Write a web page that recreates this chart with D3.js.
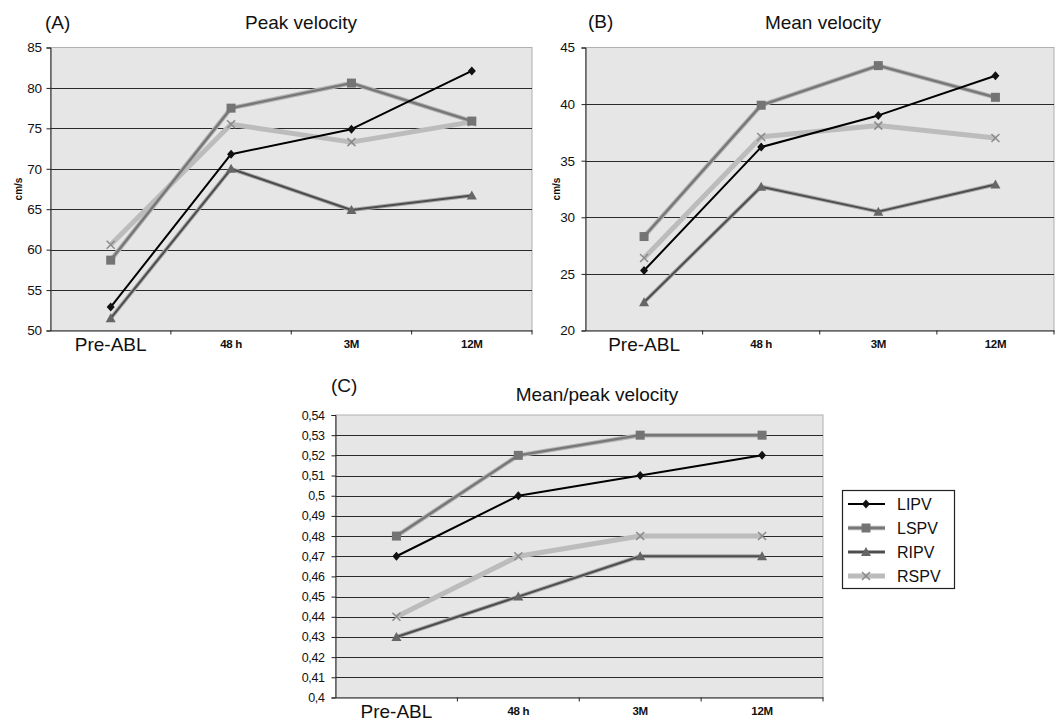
<!DOCTYPE html>
<html>
<head>
<meta charset="utf-8">
<script src="https://d3js.org/d3.v7.min.js"></script>
<style>
  body { margin: 0; background: #fff; }
  svg text { font-family: "Liberation Sans", Arial, sans-serif; fill: #111; }
</style>
</head>
<body>
<div id="my_dataviz"></div>
<script>

// categories (time points) and series
var periods = ["Pre-ABL", "48 h", "3M", "12M"];
var seriesNames = ["LIPV", "LSPV", "RIPV", "RSPV"];

// (A) peak velocity, cm/s
var peakLIPV = [52.9, 71.8, 74.9, 82.1];
var peakLSPV = [58.7, 77.5, 80.6, 75.9];
var peakRIPV = [51.5, 70.0, 64.9, 66.7];
var peakRSPV = [60.6, 75.5, 73.3, 75.8];

// (B) mean velocity, cm/s
var meanLIPV = [25.3, 36.2, 39.0, 42.5];
var meanLSPV = [28.3, 39.9, 43.4, 40.6];
var meanRIPV = [22.5, 32.7, 30.5, 32.9];
var meanRSPV = [26.4, 37.1, 38.1, 37.0];

// (C) mean/peak ratio
var ratioLIPV = [0.47, 0.50, 0.51, 0.52];
var ratioLSPV = [0.48, 0.52, 0.53, 0.53];
var ratioRIPV = [0.43, 0.45, 0.47, 0.47];
var ratioRSPV = [0.44, 0.47, 0.48, 0.48];

// y tick values
var peakTicks = [50, 55, 60, 65, 70, 75, 80, 85];
var meanTicks = [20, 25, 30, 35, 40, 45];
var ratioTicks = d3.range(40, 55).map(function(d) { return d / 100; });

// look of each series
var styles = {
  LIPV: { core: "#000", coreW: 2, halo: null, haloW: 0, symbol: "diamond", fill: "#111" },
  LSPV: { core: "#777", coreW: 2.4, halo: "#b4b4b4", haloW: 4.5, symbol: "square", fill: "#747474" },
  RIPV: { core: "#4d4d4d", coreW: 2, halo: "#a9a9a9", haloW: 4, symbol: "triangle", fill: "#666" },
  RSPV: { core: "#bcbcbc", coreW: 5, halo: null, haloW: 0, symbol: "x", fill: "#8a8a8a" }
};

var svg = d3.select("#my_dataviz")
  .append("svg")
    .attr("width", 1056)
    .attr("height", 721);

function markerPath(type) {
  if (type == "diamond") return "M0,-4.5L4,0L0,4.5L-4,0Z";
  if (type == "square") return "M-4.5,-4.5H4.5V4.5H-4.5Z";
  if (type == "triangle") return "M0,-5L5,4H-5Z";
  return "M-4,-4L4,4M-4,4L4,-4";
}

function drawMarker(g, name, cx, cy) {
  var s = styles[name];
  var p = g.append("path")
    .attr("transform", "translate(" + cx + "," + cy + ")")
    .attr("d", markerPath(s.symbol));
  if (s.symbol == "x") p.attr("fill", "none").attr("stroke", s.fill).attr("stroke-width", 1.5);
  else p.attr("fill", s.fill);
}

function drawPanel(cfg) {
  var g = svg.append("g");
  var x = d3.scaleBand().domain(periods).range([cfg.x0, cfg.x1]);
  var y = d3.scaleLinear().domain(cfg.domain).range([cfg.y1, cfg.y0]);

  // plot background
  g.append("rect")
    .attr("x", cfg.x0).attr("y", cfg.y0)
    .attr("width", cfg.x1 - cfg.x0).attr("height", cfg.y1 - cfg.y0)
    .attr("fill", "#e6e6e6")
    .attr("stroke", "#b0b0b0");

  // horizontal gridlines
  g.selectAll(".grid")
    .data(cfg.ticks.slice(1, -1))
    .enter().append("line")
      .attr("x1", cfg.x0).attr("x2", cfg.x1)
      .attr("y1", function(d) { return Math.round(y(d)) + 0.5; })
      .attr("y2", function(d) { return Math.round(y(d)) + 0.5; })
      .attr("stroke", "#2a2a2a")
      .attr("stroke-width", 1);

  // y axis
  var yAxis = g.append("g")
    .attr("transform", "translate(" + cfg.x0 + ",0)")
    .call(d3.axisLeft(y).tickValues(cfg.ticks).tickSize(4).tickPadding(cfg.yPad).tickFormat(cfg.fmt));
  yAxis.select(".domain").attr("stroke", "#222");
  yAxis.selectAll(".tick line").attr("stroke", "#222");
  yAxis.selectAll("text")
    .style("font-size", cfg.yFont + "px")
    .style("letter-spacing", "-0.4px")
    .attr("fill", "#111");

  // x axis: labels at band centres, tick marks between bands
  var xAxis = g.append("g")
    .attr("transform", "translate(0," + cfg.y1 + ")")
    .call(d3.axisBottom(x).tickSize(0).tickPadding(0));
  xAxis.select(".domain").attr("stroke", "#222");
  xAxis.selectAll("text")
    .attr("fill", "#111")
    .attr("dy", null)
    .attr("y", function(d, i) { return i == 0 ? 20 : 17; })
    .style("font-size", function(d, i) { return i == 0 ? "19px" : "11.5px"; })
    .style("font-weight", function(d, i) { return i == 0 ? "normal" : "bold"; })
    .style("letter-spacing", function(d, i) { return i == 0 ? "0px" : "-0.3px"; });
  xAxis.selectAll(".sep")
    .data(periods.slice(1).map(function(d) { return x(d); }).concat([cfg.x1]))
    .enter().append("line")
      .attr("x1", function(d) { return d; }).attr("x2", function(d) { return d; })
      .attr("y1", 0).attr("y2", 4)
      .attr("stroke", "#222");

  // series lines, drawn back to front so LIPV sits on top
  var line = d3.line()
    .x(function(d, i) { return x(periods[i]) + x.bandwidth() / 2; })
    .y(function(d) { return y(d); });

  ["RSPV", "RIPV", "LSPV", "LIPV"].forEach(function(name) {
    var vals = cfg.data[name];
    var s = styles[name];
    if (s.halo) {
      g.append("path").attr("d", line(vals)).attr("fill", "none")
        .attr("stroke", s.halo).attr("stroke-width", s.haloW).attr("stroke-linejoin", "round");
    }
    g.append("path").attr("d", line(vals)).attr("fill", "none")
      .attr("stroke", s.core).attr("stroke-width", s.coreW).attr("stroke-linejoin", "round");
    vals.forEach(function(v, i) {
      drawMarker(g, name, x(periods[i]) + x.bandwidth() / 2, y(v));
    });
  });

  // panel letter and title
  g.append("text").attr("x", cfg.letterX).attr("y", cfg.letterY)
    .style("font-size", "19px").text(cfg.letter);
  g.append("text").attr("x", cfg.titleX).attr("y", cfg.titleY)
    .attr("text-anchor", "middle")
    .style("font-size", "19px").text(cfg.title);

  // y label
  if (cfg.ylabel) {
    g.append("text")
      .attr("transform", "translate(" + cfg.ylabelX + "," + ((cfg.y0 + cfg.y1) / 2) + ") rotate(-90)")
      .attr("text-anchor", "middle")
      .style("font-size", "10px").style("font-weight", "bold")
      .text(cfg.ylabel);
  }
}

var commaFmt = function(d) { return String(+d.toFixed(2)).replace(".", ","); };

drawPanel({
  x0: 50.5, x1: 532, y0: 47.5, y1: 330.5, domain: [50, 85], ticks: peakTicks,
  fmt: d3.format("d"), yPad: 5, yFont: 13.5,
  data: { LIPV: peakLIPV, LSPV: peakLSPV, RIPV: peakRIPV, RSPV: peakRSPV },
  letter: "(A)", letterX: 45, letterY: 29, title: "Peak velocity", titleX: 301, titleY: 29,
  ylabel: "cm/s", ylabelX: 22
});

drawPanel({
  x0: 585.5, x1: 1054, y0: 47.5, y1: 330.5, domain: [20, 45], ticks: meanTicks,
  fmt: d3.format("d"), yPad: 7, yFont: 13.5,
  data: { LIPV: meanLIPV, LSPV: meanLSPV, RIPV: meanRIPV, RSPV: meanRSPV },
  letter: "(B)", letterX: 588, letterY: 28, title: "Mean velocity", titleX: 823, titleY: 29,
  ylabel: "cm/s", ylabelX: 560
});

drawPanel({
  x0: 335.5, x1: 823, y0: 415, y1: 697.5, domain: [0.40, 0.54], ticks: ratioTicks,
  fmt: commaFmt, yPad: 7, yFont: 12.5,
  data: { LIPV: ratioLIPV, LSPV: ratioLSPV, RIPV: ratioRIPV, RSPV: ratioRSPV },
  letter: "(C)", letterX: 331, letterY: 392, title: "Mean/peak velocity", titleX: 597, titleY: 401,
  ylabel: null
});

// legend
var legend = svg.append("g");
legend.append("rect")
  .attr("x", 842.5).attr("y", 490.5).attr("width", 112).attr("height", 98)
  .attr("fill", "#fff").attr("stroke", "#222").attr("stroke-width", 1.2);
seriesNames.forEach(function(name, i) {
  var ly = 504 + i * 24;
  var s = styles[name];
  if (s.halo) {
    legend.append("line").attr("x1", 848).attr("x2", 885).attr("y1", ly).attr("y2", ly)
      .attr("stroke", s.halo).attr("stroke-width", s.haloW);
  }
  legend.append("line").attr("x1", 848).attr("x2", 885).attr("y1", ly).attr("y2", ly)
    .attr("stroke", s.core).attr("stroke-width", s.coreW);
  drawMarker(legend, name, 866, ly);
  legend.append("text").attr("x", 897).attr("y", ly + 6)
    .style("font-size", "16px").text(name);
});

</script>
</body>
</html>
